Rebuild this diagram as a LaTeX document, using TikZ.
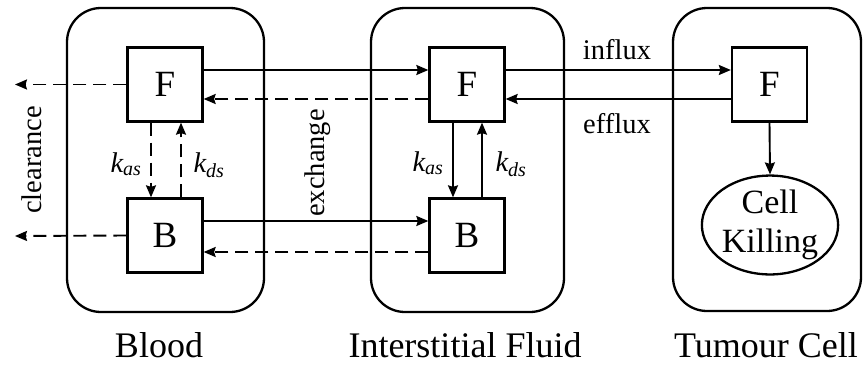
\documentclass[tikz,border=0pt]{standalone}
\usepackage{fontspec}
\setmainfont{Liberation Serif}
\usetikzlibrary{arrows.meta,shapes.geometric}
\begin{document}
\begin{tikzpicture}[x=1pt,y=-1pt,
  comp/.style={draw,line width=2.3pt,rounded corners=34pt,inner sep=0pt},
  box/.style={draw,line width=2.3pt,minimum width=75pt,minimum height=74pt,inner sep=0pt,font=\fontsize{37}{40}\selectfont},
  arr/.style={line width=1.9pt,-{Stealth[length=12pt,width=10pt,inset=1.5pt]}},
  darr/.style={arr,dash pattern=on 13pt off 7pt},
  lab/.style={font=\fontsize{28.5}{32}\selectfont,inner sep=0pt},
  ttl/.style={font=\fontsize{36}{40}\selectfont,anchor=base,inner sep=0pt}]
\useasboundingbox (0,0) rectangle (864,365);
% compartments
\node[comp,minimum width=197pt,minimum height=304pt] (blood) at (165.5,160) {};
\node[comp,minimum width=193pt,minimum height=304pt] (inter) at (467.5,160) {};
\node[comp,minimum width=188pt,minimum height=303pt] (tumour) at (767,159.5) {};
% boxes
\node[box] (bF) at (165,84.5) {F};
\node[box] (bB) at (165,235.5) {B};
\node[box] (iF) at (467,84.5) {F};
\node[box] (iB) at (467,235.5) {B};
\node[box] (tF) at (769.5,84.5) {F};
\node[draw,ellipse,line width=2.3pt,minimum width=133pt,minimum height=98pt,inner sep=0pt,align=center,font=\fontsize{34}{39}\selectfont] (ck) at (770,225) {Cell\\Killing};
% exchange arrows
\draw[arr] ([yshift=14.5pt]bF.east) -- ([yshift=14.5pt]iF.west);
\draw[darr] ([yshift=-14.5pt]iF.west) -- ([yshift=-14.5pt]bF.east);
\draw[arr] ([yshift=14.5pt]bB.east) -- ([yshift=14.5pt]iB.west);
\draw[darr] ([yshift=-16.5pt]iB.west) -- ([yshift=-16.5pt]bB.east);
% clearance
\coordinate (c1) at (15,84.5);
\coordinate (c2) at (15,236);
\draw[darr] (bF.west) -- (c1);
\draw[darr] (bB.west) -- (c2);
% binding in blood
\draw[darr] ([xshift=-14pt]bF.south) -- ([xshift=-14pt]bB.north);
\draw[darr] ([xshift=16pt]bB.north) -- ([xshift=16pt]bF.south);
% binding in interstitial fluid
\draw[arr] ([xshift=-14pt]iF.south) -- ([xshift=-14pt]iB.north);
\draw[arr] ([xshift=15pt]iB.north) -- ([xshift=15pt]iF.south);
% influx / efflux
\draw[arr] ([yshift=14.5pt]iF.east) -- ([yshift=14.5pt]tF.west);
\draw[arr] ([yshift=-14.5pt]tF.west) -- ([yshift=-14.5pt]iF.east);
% killing
\draw[arr] (tF.south) -- (ck.north);
% labels
\node[lab,rotate=90] (lcl) at (32,160) {clearance};
\node[lab,rotate=90] (lex) at (318,163) {exchange};
\node[lab,anchor=base] (lin) at (617,59) {influx};
\node[lab,anchor=base] (lef) at (617,133) {efflux};
\node[lab,anchor=base] (k1) at (126,172) {\itshape k\textsubscript{as}};
\node[lab,anchor=base] (k2) at (209,172) {\itshape k\textsubscript{ds}};
\node[lab,anchor=base] (k3) at (428,171) {\itshape k\textsubscript{as}};
\node[lab,anchor=base] (k4) at (511,171) {\itshape k\textsubscript{ds}};
% titles
\node[ttl] (tb) at (159,357) {Blood};
\node[ttl] (ti) at (465,357) {Interstitial Fluid};
\node[ttl] (tt) at (766,357) {Tumour Cell};
\end{tikzpicture}
\end{document}
